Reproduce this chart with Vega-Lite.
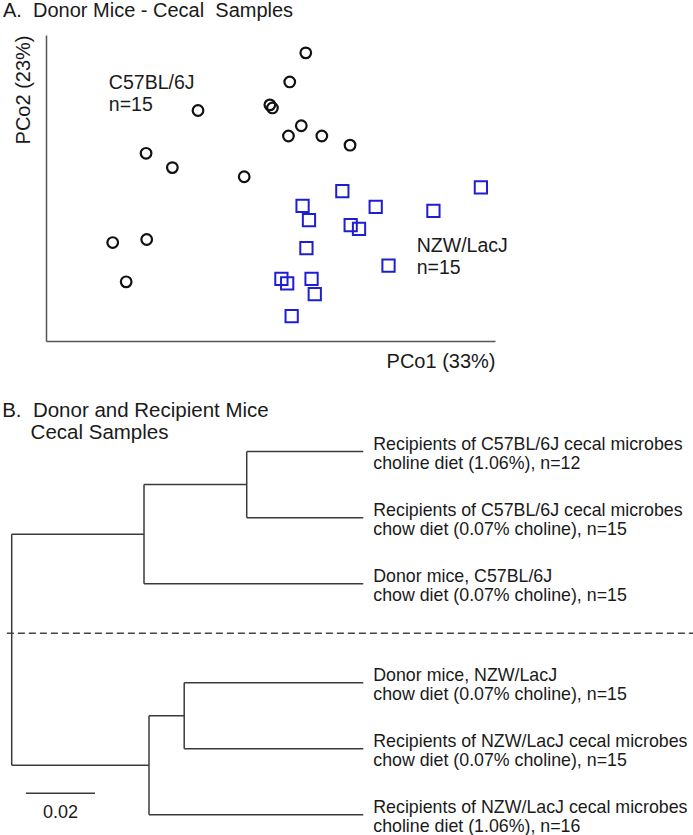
{
  "$schema": "https://vega.github.io/schema/vega-lite/v6.json",
  "background": "white",
  "padding": {"left": 2, "top": 1, "right": 0, "bottom": 0},
  "spacing": 30,
  "config": {
    "view": {"stroke": null},
    "font": "Liberation Sans",
    "title": {"fontWeight": "normal", "color": "#1a1a1a", "anchor": "start", "font": "Liberation Sans"}
  },
  "datasets": {
    "samples": [
      {"group": "C57BL/6J", "pco1": 0.105, "pco2": 0.265},
      {"group": "C57BL/6J", "pco1": 0.080, "pco2": 0.208},
      {"group": "C57BL/6J", "pco1": -0.063, "pco2": 0.152},
      {"group": "C57BL/6J", "pco1": 0.049, "pco2": 0.163},
      {"group": "C57BL/6J", "pco1": 0.053, "pco2": 0.157},
      {"group": "C57BL/6J", "pco1": 0.098, "pco2": 0.122},
      {"group": "C57BL/6J", "pco1": 0.078, "pco2": 0.102},
      {"group": "C57BL/6J", "pco1": 0.130, "pco2": 0.102},
      {"group": "C57BL/6J", "pco1": 0.174, "pco2": 0.084},
      {"group": "C57BL/6J", "pco1": -0.144, "pco2": 0.068},
      {"group": "C57BL/6J", "pco1": -0.103, "pco2": 0.040},
      {"group": "C57BL/6J", "pco1": 0.009, "pco2": 0.022},
      {"group": "C57BL/6J", "pco1": -0.196, "pco2": -0.107},
      {"group": "C57BL/6J", "pco1": -0.143, "pco2": -0.101},
      {"group": "C57BL/6J", "pco1": -0.175, "pco2": -0.184},
      {"group": "NZW/LacJ", "pco1": 0.162, "pco2": -0.006},
      {"group": "NZW/LacJ", "pco1": 0.378, "pco2": 0.001},
      {"group": "NZW/LacJ", "pco1": 0.100, "pco2": -0.035},
      {"group": "NZW/LacJ", "pco1": 0.214, "pco2": -0.037},
      {"group": "NZW/LacJ", "pco1": 0.304, "pco2": -0.045},
      {"group": "NZW/LacJ", "pco1": 0.110, "pco2": -0.063},
      {"group": "NZW/LacJ", "pco1": 0.175, "pco2": -0.073},
      {"group": "NZW/LacJ", "pco1": 0.188, "pco2": -0.080},
      {"group": "NZW/LacJ", "pco1": 0.106, "pco2": -0.118},
      {"group": "NZW/LacJ", "pco1": 0.234, "pco2": -0.152},
      {"group": "NZW/LacJ", "pco1": 0.067, "pco2": -0.178},
      {"group": "NZW/LacJ", "pco1": 0.076, "pco2": -0.187},
      {"group": "NZW/LacJ", "pco1": 0.114, "pco2": -0.178},
      {"group": "NZW/LacJ", "pco1": 0.119, "pco2": -0.208},
      {"group": "NZW/LacJ", "pco1": 0.083, "pco2": -0.251}
    ],
    "groupLabels": [
      {"group": "C57BL/6J", "pco1": -0.202, "pco2": 0.194, "label": "C57BL/6J\nn=15"},
      {"group": "NZW/LacJ", "pco1": 0.278, "pco2": -0.125, "label": "NZW/LacJ\nn=15"}
    ],
    "branches": [
      {"d1": 0, "d2": 0.03835, "y1": 2.25, "y2": 2.25},
      {"d1": 0, "d2": 0.0398, "y1": 5.75, "y2": 5.75},
      {"d1": 0.03835, "d2": 0.06812, "y1": 1.5, "y2": 1.5},
      {"d1": 0.03835, "d2": 0.1019, "y1": 3, "y2": 3},
      {"d1": 0.06812, "d2": 0.1019, "y1": 1, "y2": 1},
      {"d1": 0.06812, "d2": 0.1019, "y1": 2, "y2": 2},
      {"d1": 0.0398, "d2": 0.05, "y1": 5, "y2": 5},
      {"d1": 0.0398, "d2": 0.1019, "y1": 6.5, "y2": 6.5},
      {"d1": 0.05, "d2": 0.1019, "y1": 4.5, "y2": 4.5},
      {"d1": 0.05, "d2": 0.1019, "y1": 5.5, "y2": 5.5},
      {"d1": 0, "d2": 0, "y1": 2.25, "y2": 5.75},
      {"d1": 0.03835, "d2": 0.03835, "y1": 1.5, "y2": 3},
      {"d1": 0.06812, "d2": 0.06812, "y1": 1, "y2": 2},
      {"d1": 0.0398, "d2": 0.0398, "y1": 5, "y2": 6.5},
      {"d1": 0.05, "d2": 0.05, "y1": 4.5, "y2": 5.5}
    ],
    "leaves": [
      {"d": 0.1019, "y": 1, "label": "Recipients of C57BL/6J cecal microbes\ncholine diet (1.06%), n=12"},
      {"d": 0.1019, "y": 2, "label": "Recipients of C57BL/6J cecal microbes\nchow diet (0.07% choline), n=15"},
      {"d": 0.1019, "y": 3, "label": "Donor mice, C57BL/6J\nchow diet (0.07% choline), n=15"},
      {"d": 0.1019, "y": 4.5, "label": "Donor mice, NZW/LacJ\nchow diet (0.07% choline), n=15"},
      {"d": 0.1019, "y": 5.5, "label": "Recipients of NZW/LacJ cecal microbes\nchow diet (0.07% choline), n=15"},
      {"d": 0.1019, "y": 6.5, "label": "Recipients of NZW/LacJ cecal microbes\ncholine diet (1.06%), n=16"}
    ]
  },
  "vconcat": [
    {
      "width": 449,
      "height": 306,
      "title": {"text": "A.\u00a0\u00a0Donor Mice - Cecal\u00a0\u00a0Samples", "fontSize": 20, "dx": -10, "offset": 14},
      "encoding": {
        "x": {"field": "pco1", "type": "quantitative",
          "scale": {"domain": [-0.3, 0.4], "nice": false, "zero": false},
          "axis": {"title": "PCo1 (33%)", "titleAnchor": "end", "titleFontSize": 20, "titleFontWeight": "normal", "titleColor": "#1a1a1a", "titlePadding": 10, "labels": false, "ticks": false, "grid": false, "domainColor": "#555", "domainWidth": 1.5}},
        "y": {"field": "pco2", "type": "quantitative",
          "scale": {"domain": [-0.3, 0.3], "nice": false, "zero": false},
          "axis": {"title": "PCo2 (23%)", "titleAnchor": "end", "titleFontSize": 20, "titleFontWeight": "normal", "titleColor": "#1a1a1a", "titlePadding": 13, "labels": false, "ticks": false, "grid": false, "domainColor": "#555", "domainWidth": 1.5}}
      },
      "layer": [
        {
          "data": {"name": "samples"},
          "transform": [{"filter": "datum.group === 'C57BL/6J'"}],
          "mark": {"type": "point", "shape": "circle", "filled": false, "stroke": "#111111", "strokeWidth": 2.2, "size": 113, "opacity": 1}
        },
        {
          "data": {"name": "samples"},
          "transform": [{"filter": "datum.group === 'NZW/LacJ'"}],
          "mark": {"type": "point", "shape": "square", "filled": false, "stroke": "#1f1fd1", "strokeWidth": 2, "size": 150, "opacity": 1}
        },
        {
          "data": {"name": "groupLabels"},
          "mark": {"type": "text", "align": "left", "baseline": "alphabetic", "fontSize": 19.5, "lineBreak": "\n", "lineHeight": 22, "color": "#1a1a1a"},
          "encoding": {"text": {"field": "label", "type": "nominal"}}
        }
      ]
    },
    {
      "width": 647,
      "height": 383,
      "title": {"text": ["B.\u00a0\u00a0Donor and Recipient Mice", "\u200b\u00a0\u00a0\u00a0\u00a0\u00a0Cecal Samples"], "fontSize": 20.5, "lineHeight": 22, "offset": -8, "frame": "bounds", "dx": -4},
      "layer": [
        {
          "data": {"name": "branches"},
          "mark": {"type": "rule", "stroke": "#3a3a3a", "strokeWidth": 1.5},
          "encoding": {
            "x": {"field": "d1", "type": "quantitative", "scale": {"domain": [0.00994, 0.19748], "nice": false, "zero": false}, "axis": null},
            "x2": {"field": "d2"},
            "y": {"field": "y1", "type": "quantitative", "scale": {"domain": [0.9, 6.7], "reverse": true, "nice": false, "zero": false}, "axis": null},
            "y2": {"field": "y2"}
          }
        },
        {
          "data": {"values": [{}]},
          "mark": {"type": "rule", "stroke": "#444", "strokeWidth": 1.5, "strokeDash": [7, 4]},
          "encoding": {
            "x": {"datum": -0.0014, "type": "quantitative"},
            "x2": {"datum": 0.1975},
            "y": {"datum": 3.75, "type": "quantitative"}
          }
        },
        {
          "data": {"values": [{}]},
          "mark": {"type": "rule", "stroke": "#3a3a3a", "strokeWidth": 1.5},
          "encoding": {
            "x": {"datum": 0.00414, "type": "quantitative"},
            "x2": {"datum": 0.02414},
            "y": {"datum": 6.172, "type": "quantitative"}
          }
        },
        {
          "data": {"values": [{"label": "0.02"}]},
          "mark": {"type": "text", "align": "center", "baseline": "alphabetic", "fontSize": 18, "dy": 25, "color": "#1a1a1a"},
          "encoding": {
            "x": {"datum": 0.01414, "type": "quantitative"},
            "y": {"datum": 6.172, "type": "quantitative"},
            "text": {"field": "label", "type": "nominal"}
          }
        },
        {
          "data": {"name": "leaves"},
          "mark": {"type": "text", "align": "left", "baseline": "alphabetic", "dx": 10, "dy": -2, "fontSize": 17.8, "lineBreak": "\n", "lineHeight": 19.5, "color": "#1a1a1a"},
          "encoding": {
            "x": {"field": "d", "type": "quantitative"},
            "y": {"field": "y", "type": "quantitative"},
            "text": {"field": "label", "type": "nominal"}
          }
        }
      ]
    }
  ]
}
